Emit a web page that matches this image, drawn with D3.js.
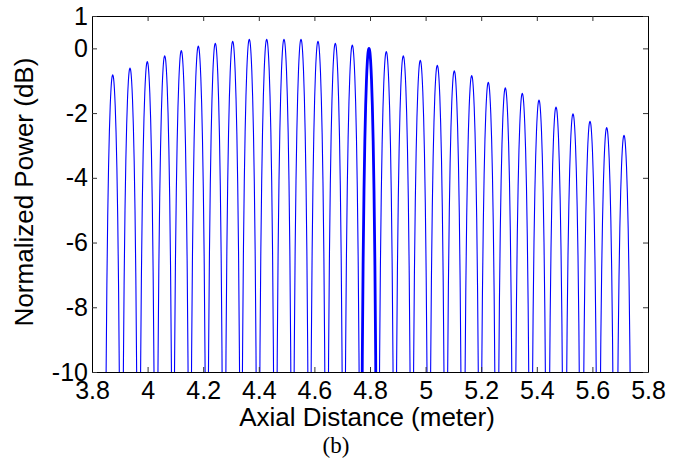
<!DOCTYPE html>
<html>
<head>
<meta charset="utf-8">
<script src="https://cdn.jsdelivr.net/npm/d3@7"></script>
<style>
  html, body { margin: 0; padding: 0; background: #fff; }
  svg { display: block; }
  text { font-family: "Liberation Sans", Arial, sans-serif; fill: #000; }
</style>
</head>
<body>
<svg id="chart" width="684" height="462"></svg>
<script>
// ---- data ----
// lobe peak positions (m) and peak levels (dB)
const peakX = [3.8745, 3.9367, 3.9989, 4.0615, 4.1212, 4.1824, 4.2435, 4.3061, 4.3658, 4.4284,
               4.4906, 4.5518, 4.6129, 4.6752, 4.7363, 4.7964, 4.8586, 4.9198, 4.9809, 5.0421,
               5.1032, 5.1658, 5.2255, 5.2867, 5.3478, 5.4079, 5.4691, 5.5302, 5.5914, 5.6514, 5.7137];
const peakDb = [-0.82, -0.61, -0.41, -0.23, -0.07, 0.07, 0.16, 0.22, 0.28, 0.28,
                0.28, 0.28, 0.22, 0.16, 0.10, 0.00, -0.10, -0.23, -0.37, -0.52,
                -0.69, -0.84, -1.05, -1.22, -1.39, -1.60, -1.81, -2.02, -2.25, -2.45, -2.69];
// measured lobe shape: distance from lobe peak (m) and level below the peak (dB)
const lobeOffset = [0, 0.003, 0.006, 0.009, 0.012, 0.015, 0.018, 0.021, 0.024, 0.027];
const lobeDrop   = [0, -0.10, -0.42, -0.96, -1.76, -2.87, -4.39, -6.49, -9.49, -14.6];
const nullDb = -30;
// the heavier lobe near 4.8 m
const boldX = [4.7964];
const boldDb = [0.00];
// axes
const xTicks = [3.8, 4, 4.2, 4.4, 4.6, 4.8, 5, 5.2, 5.4, 5.6, 5.8];
const yTicks = [-10, -8, -6, -4, -2, 0, 1];
const xLabel = "Axial Distance (meter)";
const yLabel = "Normalized Power (dB)";
const caption = "(b)";

// ---- build line points ----
function lobePoints(px, pdb) {
  const pts = [];
  for (let k = lobeOffset.length - 1; k > 0; k--) pts.push([px - lobeOffset[k], pdb + lobeDrop[k]]);
  for (let k = 0; k < lobeOffset.length; k++) pts.push([px + lobeOffset[k], pdb + lobeDrop[k]]);
  return pts;
}
const mainPts = [];
peakX.forEach((px, i) => {
  if (i > 0) mainPts.push([(peakX[i - 1] + px) / 2, nullDb]);
  lobePoints(px, peakDb[i]).forEach(p => mainPts.push(p));
});

// ---- chart ----
const svg = d3.select("#chart");
const L = 92, R = 648, T = 16, B = 372;
const x = d3.scaleLinear().domain([3.8, 5.8]).range([L, R]);
const y = d3.scaleLinear().domain([-10, 1]).range([B, T]);

svg.append("defs").append("clipPath").attr("id", "plotclip")
  .append("rect").attr("x", L).attr("y", T).attr("width", R - L).attr("height", B - T);

const line = d3.line().x(d => x(d[0])).y(d => y(d[1])).curve(d3.curveMonotoneX);

const plot = svg.append("g").attr("clip-path", "url(#plotclip)");
plot.append("path").datum(mainPts)
  .attr("d", line).attr("fill", "none").attr("stroke", "#0000ff").attr("stroke-width", 1.1);
boldX.forEach((bx, i) => {
  plot.append("path").datum(lobePoints(bx, boldDb[i]))
    .attr("d", line).attr("fill", "none").attr("stroke", "#0000ff").attr("stroke-width", 2.8);
});

// axes (MATLAB style box, inward ticks); plain hyphen for negatives
const fmtX = d => String(+d.toFixed(1));
const fmtY = d => String(d);
const gB = svg.append("g").attr("transform", `translate(0,${B})`)
  .call(d3.axisBottom(x).tickValues(xTicks).tickSize(-5).tickSizeOuter(0).tickPadding(9).tickFormat(fmtX));
const gT = svg.append("g").attr("transform", `translate(0,${T})`)
  .call(d3.axisTop(x).tickValues(xTicks).tickSize(-5).tickSizeOuter(0).tickFormat(""));
const gL = svg.append("g").attr("transform", `translate(${L},0)`)
  .call(d3.axisLeft(y).tickValues(yTicks).tickSize(-5).tickSizeOuter(0).tickPadding(4).tickFormat(fmtY));
const gR = svg.append("g").attr("transform", `translate(${R},0)`)
  .call(d3.axisRight(y).tickValues(yTicks).tickSize(-5).tickSizeOuter(0).tickFormat(""));

[gB, gT, gL, gR].forEach(g => {
  g.select(".domain").attr("stroke", "#000").attr("stroke-width", 1);
  g.selectAll(".tick line").attr("stroke", "#333").attr("stroke-width", 1);
  g.selectAll("text").attr("font-family", "Liberation Sans, Arial, sans-serif")
    .attr("font-size", 25).attr("fill", "#000");
});

// axis titles
svg.append("text").attr("x", 367).attr("y", 426).attr("text-anchor", "middle")
  .attr("font-size", 26).text(xLabel);
svg.append("text").attr("transform", "translate(33,192) rotate(-90)").attr("text-anchor", "middle")
  .attr("font-size", 26).text(yLabel);
svg.append("text").attr("x", 336).attr("y", 453).attr("text-anchor", "middle")
  .style("font-family", "'Liberation Serif', 'Times New Roman', serif")
  .attr("font-size", 23).text(caption);
</script>
</body>
</html>
